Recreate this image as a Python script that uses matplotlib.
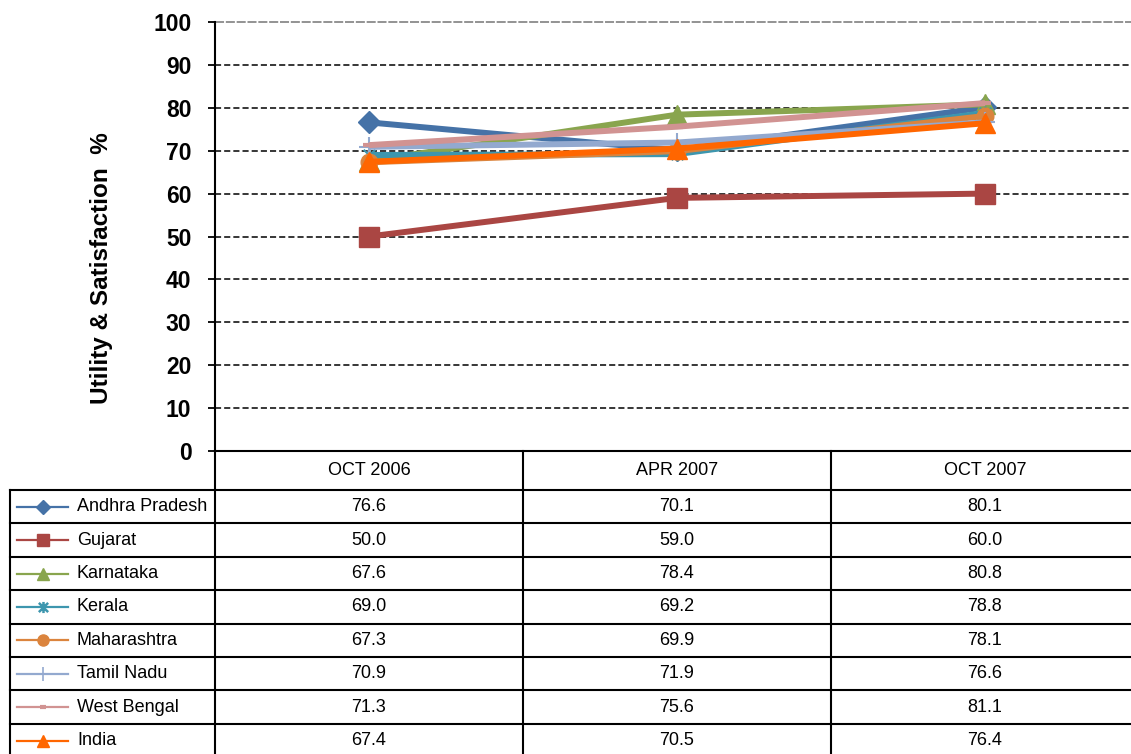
import matplotlib
matplotlib.use("Agg")
import matplotlib.pyplot as plt
from matplotlib.path import Path

plt.rcParams['font.family'] = ['Liberation Sans', 'DejaVu Sans']

# ---- data ----
periods = ["OCT 2006", "APR 2007", "OCT 2007"]
states = ["Andhra Pradesh", "Gujarat", "Karnataka", "Kerala",
          "Maharashtra", "Tamil Nadu", "West Bengal", "India"]
andhra = [76.6, 70.1, 80.1]
gujarat = [50.0, 59.0, 60.0]
karnataka = [67.6, 78.4, 80.8]
kerala = [69.0, 69.2, 78.8]
maharashtra = [67.3, 69.9, 78.1]
tamil = [70.9, 71.9, 76.6]
westbengal = [71.3, 75.6, 81.1]
india = [67.4, 70.5, 76.4]
series = [andhra, gujarat, karnataka, kerala, maharashtra, tamil, westbengal, india]
yticks = [0, 10, 20, 30, 40, 50, 60, 70, 80, 90, 100]

colors = ["#4572A7", "#AA4643", "#89A54E", "#3D96AE",
          "#DB843D", "#93A9CF", "#D19392", "#FF6600"]

# asterisk marker (x with vertical bar)
ast = Path([(-1, -1), (1, 1), (-1, 1), (1, -1), (0, -1.2), (0, 1.2)],
           [Path.MOVETO, Path.LINETO, Path.MOVETO, Path.LINETO, Path.MOVETO, Path.LINETO])
markers = ["D", "s", "^", ast, "o", "+", "_", "^"]
msize = [11, 14, 14, 10, 12, 14, 9, 15]
mew = [1, 1, 1, 1.5, 1, 1.5, 3, 1]
lsize = [7, 9, 9, 8, 8, 10, 5, 9]
lmew = [1, 1, 1, 1.8, 1, 1.2, 3, 1]

W, H = 1131, 754
fig = plt.figure(figsize=(W / 100, H / 100), dpi=100)

ax = fig.add_axes([215 / W, 1 - 451 / H, (1131 - 215) / W, (451 - 22) / H])
step = 308.0
ax.set_xlim(-0.5, -0.5 + (1131 - 215) / step)
ax.set_ylim(0, 100)
xs = list(range(len(periods)))

for yv in yticks[1:-1]:
    ax.axhline(yv, color="black", lw=1.1, ls=(0, (4, 2)), zorder=1)
ax.axhline(100, color="#8a8a8a", lw=1.3, ls=(0, (5, 1)), zorder=1, clip_on=False)

for vals, c, m, ms, mw in zip(series, colors, markers, msize, mew):
    ax.plot(xs, vals, color=c, lw=4.3, marker=m, markersize=ms,
            markeredgewidth=mw, markeredgecolor=c, markerfacecolor=c,
            solid_capstyle="butt", zorder=3)

ax.set_xticks([])
ax.set_yticks(yticks)
ax.set_yticklabels([str(v) for v in yticks], fontsize=16.5, fontweight="bold")
ax.tick_params(axis="y", direction="out", length=5, width=1.3, pad=12)
for s in ["top", "right", "bottom"]:
    ax.spines[s].set_visible(False)
ax.spines["left"].set_linewidth(1.5)
ax.patch.set_alpha(0)

fig.text(102 / W, 1 - 268 / H, "Utility & Satisfaction  %", rotation=90,
         ha="center", va="center", fontsize=17.5, fontweight="bold")

# ---- data table ----
tab = fig.add_axes([0, 0, 1, 1], zorder=5)
tab.set_xlim(0, W)
tab.set_ylim(H, 0)
tab.axis("off")
tab.patch.set_alpha(0)

fig.canvas.draw()
def xpix(v):
    return ax.transData.transform((v, 0))[0]

centers = [xpix(i) for i in xs]
bounds = [xpix(i - 0.5) for i in xs]
lw_t = 1.5
head_top, head_bot, row_h = 451, 490, 33.4
left = 10
fs = 13

tab.plot([bounds[0], W], [head_top, head_top], color="black", lw=lw_t)
for r in range(len(states) + 1):
    y = head_bot + r * row_h
    tab.plot([left, W], [y, y], color="black", lw=lw_t)
tab.plot([left, left], [head_bot, H + 5], color="black", lw=lw_t)
for b in bounds:
    tab.plot([b, b], [head_top, H + 5], color="black", lw=lw_t)

for c, p in zip(centers, periods):
    tab.text(c, (head_top + head_bot) / 2, p, ha="center", va="center", fontsize=fs)

for r, (name, vals, col, m, ls_, mw) in enumerate(zip(states, series, colors, markers, lsize, lmew)):
    yc = head_bot + (r + 0.5) * row_h
    tab.plot([17, 42.5, 68], [yc, yc, yc], color=col, lw=1.6, marker=m, markevery=[1],
             markersize=ls_, markerfacecolor=col, markeredgecolor=col,
             markeredgewidth=mw)
    tab.text(77, yc, name, ha="left", va="center", fontsize=fs)
    for c, v in zip(centers, vals):
        tab.text(c, yc, f"{v:.1f}", ha="center", va="center", fontsize=fs)

fig.savefig("out.png", dpi=100)
